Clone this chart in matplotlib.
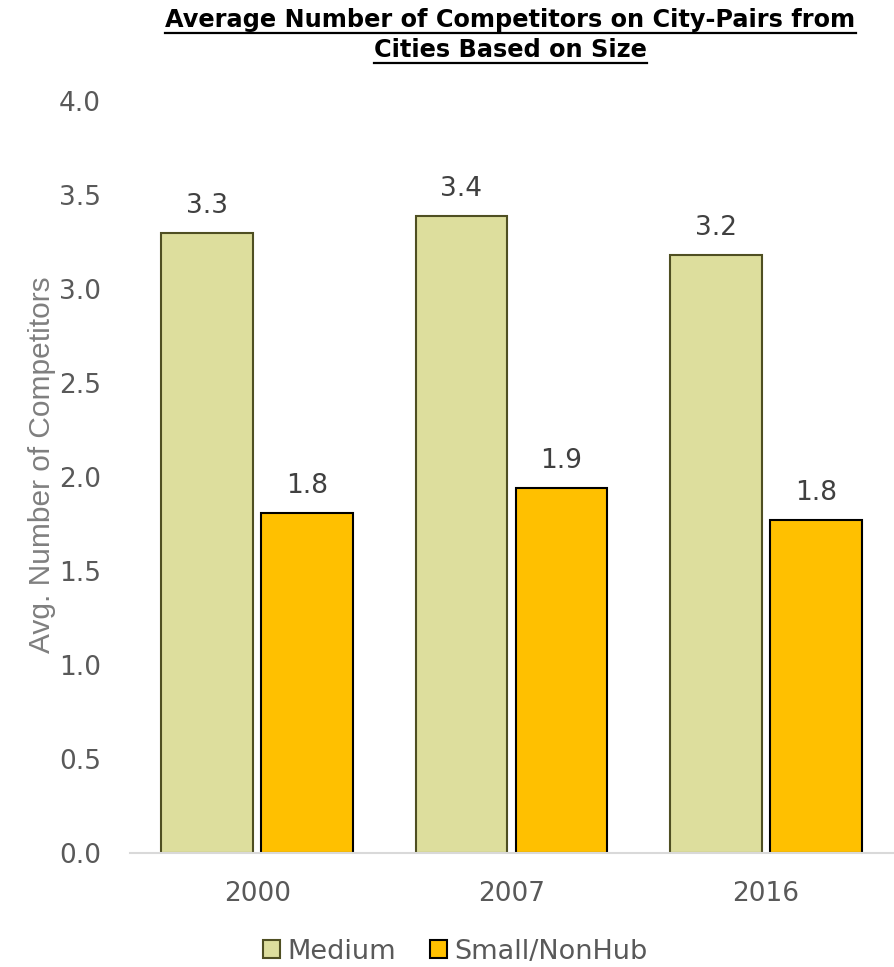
import matplotlib

matplotlib.use("Agg")
import matplotlib.pyplot as plt
import numpy as np
from matplotlib.lines import Line2D

years = ["2000", "2007", "2016"]
medium = [3.30, 3.39, 3.18]
small_nonhub = [1.81, 1.94, 1.77]
series_names = ["Medium", "Small/NonHub"]
yticks = [0.0, 0.5, 1.0, 1.5, 2.0, 2.5, 3.0, 3.5, 4.0]

MED_FILL, MED_EDGE = "#DDDE9D", "#4F4F22"
SMALL_FILL, SMALL_EDGE = "#FFC000", "#000000"
TEXT_GREY = "#595959"

plt.rcParams["font.family"] = ["DejaVu Sans"]

fig = plt.figure(figsize=(8.94, 9.67), dpi=100)
ax = fig.add_axes([0.1454, 0.1179, 0.8535, 0.7776])

x = np.arange(len(years))
w, off = 0.36, 0.197
b1 = ax.bar(x - off, medium, w, color=MED_FILL, edgecolor=MED_EDGE,
            linewidth=1.5, label=series_names[0])
b2 = ax.bar(x + off, small_nonhub, w, color=SMALL_FILL, edgecolor=SMALL_EDGE,
            linewidth=1.5, label=series_names[1])

for bars, vals in ((b1, medium), (b2, small_nonhub)):
    for rect, v in zip(bars, vals):
        ax.annotate(f"{v:.1f}", (rect.get_x() + rect.get_width() / 2, v),
                    xytext=(0, 10), textcoords="offset points",
                    ha="center", va="bottom", fontsize=19, color="#404040")

ax.set_xlim(-0.5, 2.5)
ax.set_ylim(0, 4.0)
ax.set_xticks(x, labels=years)
ax.set_yticks(yticks, labels=[f"{t:.1f}" for t in yticks])
ax.tick_params(axis="both", length=0, labelsize=19, labelcolor=TEXT_GREY)
ax.tick_params(axis="x", pad=20)
ax.tick_params(axis="y", pad=21)
for s in ("top", "right", "left"):
    ax.spines[s].set_visible(False)
ax.spines["bottom"].set_color("#D9D9D9")
ax.spines["bottom"].set_linewidth(1.5)

ax.set_ylabel("Avg. Number of Competitors", fontsize=21.5, color="#7F7F7F",
              family=["Liberation Sans", "DejaVu Sans"])
ax.yaxis.set_label_coords(-0.097, 0.516)

leg = fig.legend(loc="center", ncol=2, frameon=False, fontsize=19.5,
                 handlelength=0.65, handleheight=0.65, handletextpad=0.25,
                 columnspacing=1.25)
leg.set_bbox_to_anchor((0.509, 0.016), transform=fig.transFigure)
for t in leg.get_texts():
    t.set_color(TEXT_GREY)

# two-line title, underlined like the original
title_lines = ["Average Number of Competitors on City-Pairs from",
               "Cities Based on Size"]
title_y = [0.979, 0.948]
fig.canvas.draw()
renderer = fig.canvas.get_renderer()
for line, yy in zip(title_lines, title_y):
    t = fig.text(0.571, yy, line, ha="center", va="center", fontsize=17.3,
                 fontweight="bold", color="black")
    bb = t.get_window_extent(renderer).transformed(fig.transFigure.inverted())
    fig.add_artist(Line2D([bb.x0, bb.x1], [bb.y0 - 0.001, bb.y0 - 0.001],
                          color="black", linewidth=1.6,
                          transform=fig.transFigure))

fig.savefig("out.png", dpi=100)
